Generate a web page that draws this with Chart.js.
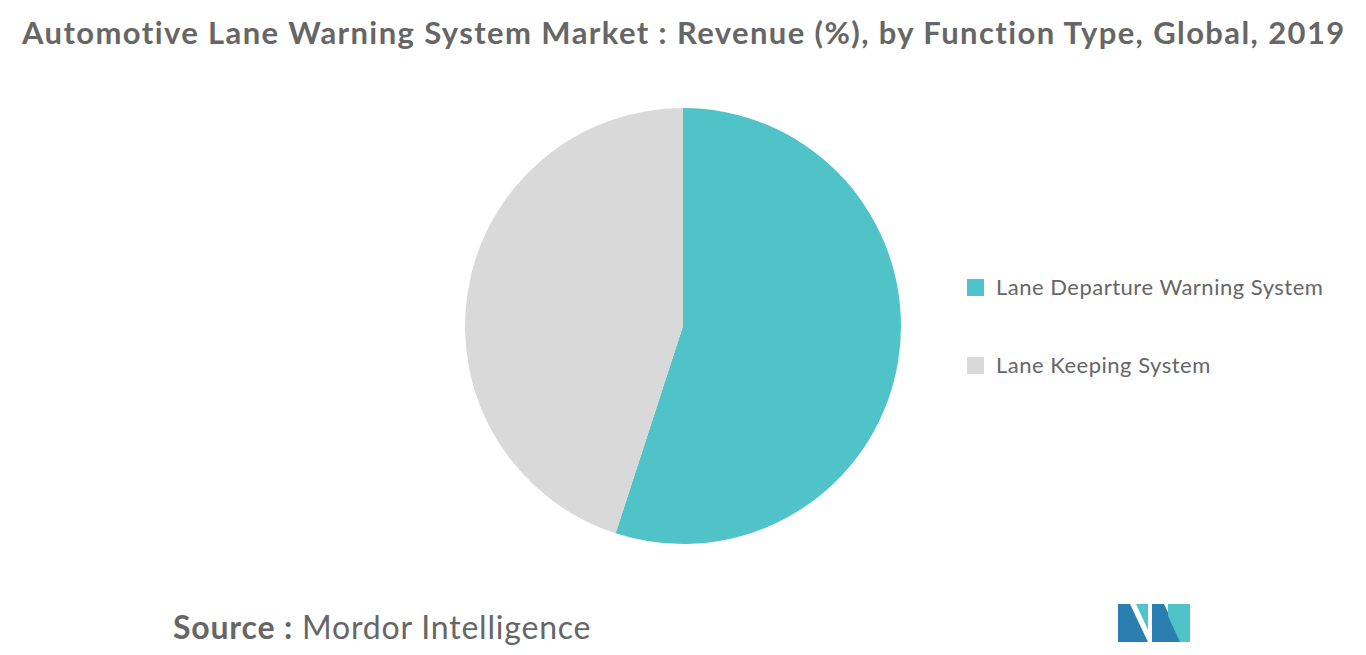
<!DOCTYPE html>
<html><head><meta charset="utf-8">
<script src="https://cdn.jsdelivr.net/npm/chart.js@4"></script>
<style>
body{margin:0;width:1366px;height:655px;background:#fff;font-family:Lato,"Open Sans",sans-serif;position:relative;overflow:hidden}
#title{position:absolute;left:22px;top:13px;font-size:31px;letter-spacing:1.4px;font-weight:bold;color:#666;white-space:nowrap}
#wrap{position:absolute;left:463px;top:106px;width:440px;height:440px}
.leg{position:absolute;left:967px;font-size:22px;letter-spacing:0.5px;color:#666;white-space:nowrap}
.leg span{display:inline-block;width:17px;height:17px;margin-right:12px;vertical-align:-1px}
#src{position:absolute;left:173px;top:607px;font-size:32px;letter-spacing:0.8px;color:#666;white-space:nowrap}
#src b{font-weight:bold}
</style></head><body>
<div id="title">Automotive Lane Warning System Market : Revenue (%), by Function Type, Global, 2019</div>
<div id="wrap"><canvas id="c" width="440" height="440"></canvas></div>
<div class="leg" style="top:273px"><span style="background:#4fc3c8"></span>Lane Departure Warning System</div>
<div class="leg" style="top:351px"><span style="background:#d9d9d9"></span>Lane Keeping System</div>
<div id="src"><b>Source :</b> Mordor Intelligence</div>
<svg style="position:absolute;left:1118px;top:604px" width="74" height="38">
<polygon points="0,38 0,0 12,0 30,38" fill="#2a7fb0"/>
<polygon points="18,0 30,0 30,26" fill="#4fc3c8"/>
<polygon points="34,38 34,0 46,0 64,38" fill="#2a7fb0"/>
<polygon points="50,0 72,0 72,38 62,38 50,12" fill="#4fc3c8"/>
</svg>
<script>
const categories=["Lane Departure Warning System","Lane Keeping System"];
const values=[55,45];
const colors=["#4fc3c8","#d9d9d9"];
new Chart(document.getElementById('c'),{type:'pie',
data:{labels:categories,datasets:[{data:values,backgroundColor:colors,borderWidth:0}]},
options:{responsive:false,animation:false,layout:{padding:2},plugins:{legend:{display:false},tooltip:{enabled:false}}}});
</script>
</body></html>
